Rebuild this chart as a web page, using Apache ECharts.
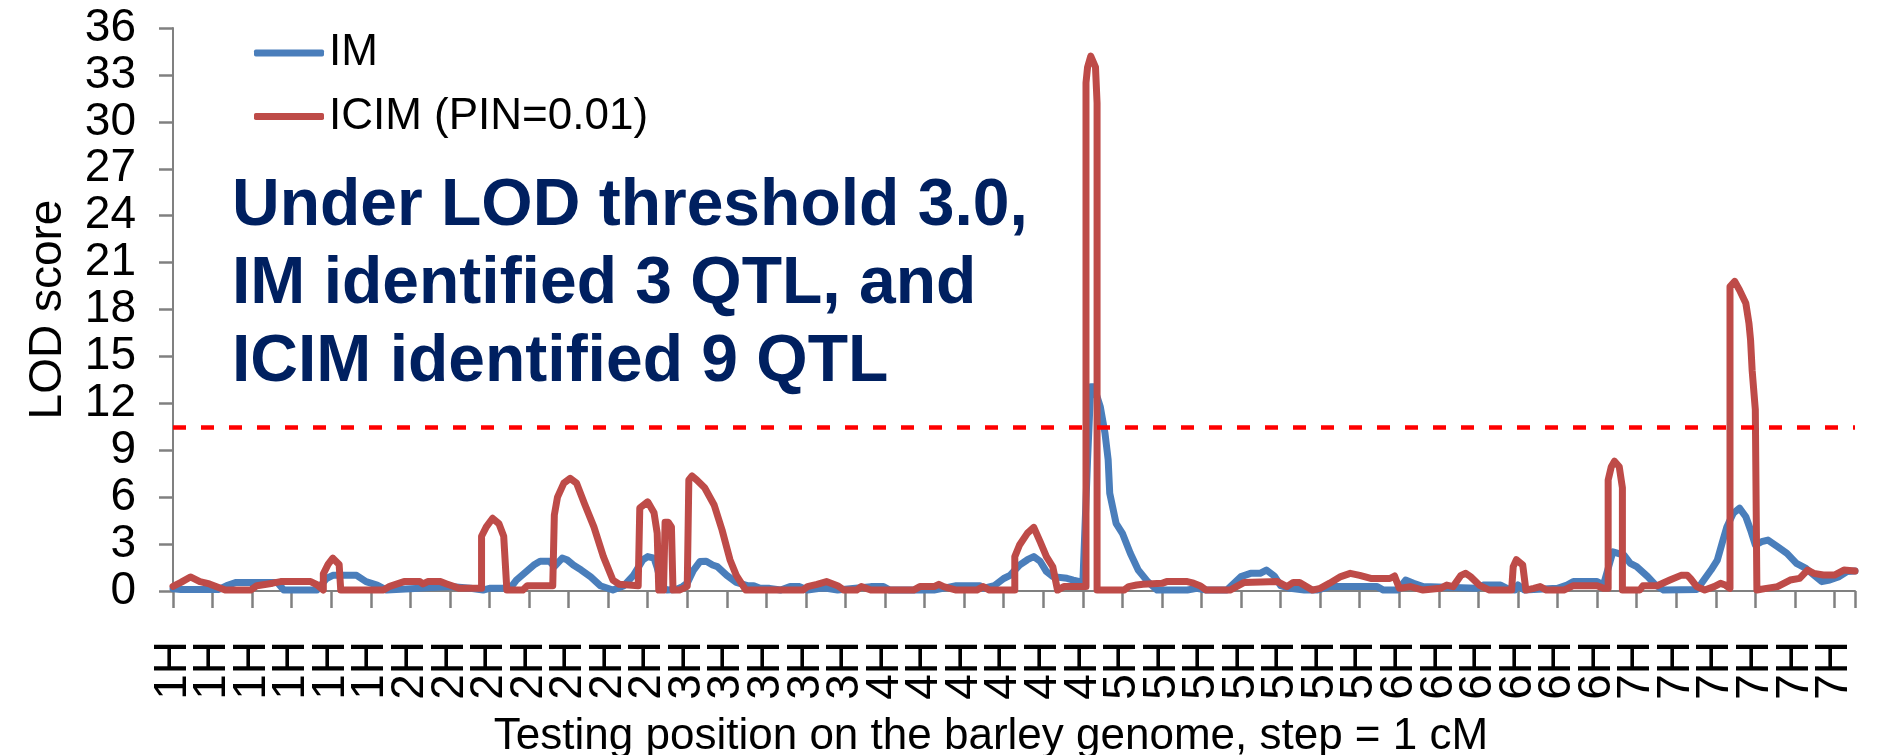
<!DOCTYPE html>
<html><head><meta charset="utf-8">
<script src="https://cdn.jsdelivr.net/npm/echarts@6/dist/echarts.min.js"></script>
<style>html,body{margin:0;padding:0;background:#fff}#c{width:1884px;height:755px}</style>
</head><body><div id="c"></div>
<script>
// Tick labels along the genome (one every 25 positions)
const tickLabels = ['1H','1H','1H','1H','1H','1H',
  '2H','2H','2H','2H','2H','2H','2H',
  '3H','3H','3H','3H','3H',
  '4H','4H','4H','4H','4H','4H',
  '5H','5H','5H','5H','5H','5H','5H',
  '6H','6H','6H','6H','6H','6H',
  '7H','7H','7H','7H','7H','7H'];
const tickStep = 25;
const lastPosition = 1063;

// IM profile (position index, LOD)
const imPos = [0,5,29,34,40,66,70,91,97,101,116,122,129,135,150,160,177,188,196,200,213,217,228,232,238,241,246,249,253,258,264,270,278,285,291,297,300,304,306,309,312,318,322,325,329,333,337,341,344,350,356,363,367,371,377,384,390,396,401,409,413,420,441,449,453,481,495,510,512,519,525,529,535,540,544,548,552,556,565,569,573,575,578,580,582,586,589,591,592,596,600,605,610,616,622,641,647,653,666,675,681,687,691,696,700,706,715,723,731,761,765,774,779,784,790,824,828,839,843,848,850,854,875,881,885,900,904,908,910,917,921,925,932,937,942,963,966,972,976,979,982,986,990,994,997,1000,1004,1008,1014,1020,1026,1032,1037,1042,1047,1053,1058,1063];
const imLod = [0.15,0.1,0.1,0.35,0.55,0.55,0.06,0.06,0.8,1.0,1.0,0.6,0.38,0.06,0.15,0.2,0.28,0.17,0.06,0.17,0.17,0.7,1.66,1.9,1.9,1.56,2.1,2.0,1.66,1.34,0.9,0.34,0.06,0.34,1.0,2.0,2.2,2.1,1.5,0.3,0.06,0.1,0.28,0.5,1.34,1.88,1.9,1.66,1.56,1.0,0.55,0.34,0.34,0.17,0.17,0.06,0.28,0.28,0.06,0.17,0.17,0.06,0.28,0.28,0.06,0.06,0.34,0.34,0.17,0.34,0.8,1.0,1.66,2.0,2.2,1.9,1.24,0.92,0.81,0.7,0.6,0.5,8.4,13.06,13.06,11.8,10.1,8.4,6.25,4.33,3.69,2.41,1.34,0.6,0.06,0.06,0.17,0.06,0.06,0.92,1.13,1.13,1.34,0.96,0.34,0.17,0.06,0.06,0.28,0.28,0.06,0.06,0.7,0.5,0.28,0.17,0.38,0.38,0.17,0.06,0.38,0.06,0.17,0.38,0.6,0.6,0.38,1.8,2.5,2.3,1.77,1.56,0.92,0.38,0.06,0.1,0.49,1.34,1.98,3.05,4.1,4.96,5.3,4.75,3.9,2.94,3.15,3.26,2.84,2.41,1.77,1.45,1.02,0.6,0.7,0.92,1.24,1.28];

// ICIM (PIN=0.01) profile (position index, LOD)
const icimPos = [0,5,11,17,23,33,49,53,63,68,87,91,95,95,98,101,105,106,133,137,146,156,158,161,169,173,181,195,195,198,202,206,209,211,221,224,240,241,243,247,251,255,260,266,272,278,282,294,295,300,304,306,307,310,311,313,315,316,320,325,326,328,331,336,342,347,352,356,362,398,401,407,413,420,424,432,435,441,468,472,481,484,487,495,508,512,516,532,532,535,540,544,548,552,556,559,563,577,577,578,580,581,583,584,584,601,604,609,613,625,628,641,645,649,653,668,677,698,704,708,712,720,725,731,738,744,750,757,769,772,775,782,790,801,805,809,814,817,820,826,832,846,847,849,853,855,860,864,868,879,885,900,904,907,907,909,911,914,916,916,927,929,938,946,953,957,959,963,968,974,978,981,984,984,987,990,994,996,997,998,1000,1001,1007,1014,1022,1028,1033,1037,1043,1050,1056,1063];
const icimLod = [0.3,0.55,0.9,0.6,0.45,0.06,0.06,0.34,0.5,0.6,0.6,0.4,0.06,1.1,1.7,2.1,1.7,0.06,0.06,0.3,0.6,0.6,0.45,0.6,0.6,0.45,0.17,0.17,3.5,4.1,4.65,4.3,3.5,0.06,0.06,0.34,0.34,4.86,6.0,6.9,7.2,6.9,5.6,4.1,2.2,0.7,0.43,0.34,5.3,5.7,5.0,3.7,0.06,0.06,4.4,4.4,4.1,0.06,0.06,0.3,7.1,7.35,7.1,6.6,5.5,3.9,2.0,1.0,0.06,0.06,0.28,0.43,0.6,0.34,0.06,0.06,0.28,0.06,0.06,0.28,0.28,0.43,0.28,0.06,0.06,0.28,0.06,0.06,2.2,2.94,3.7,4.07,3.16,2.2,1.55,0.06,0.28,0.28,32.5,33.5,34.2,34.3,33.5,31.2,0.06,0.06,0.28,0.38,0.43,0.49,0.6,0.6,0.5,0.34,0.06,0.06,0.55,0.6,0.28,0.55,0.55,0.06,0.17,0.5,0.92,1.13,1.0,0.8,0.8,0.96,0.17,0.28,0.06,0.17,0.38,0.28,1.0,1.13,0.92,0.34,0.06,0.06,1.56,2.0,1.66,0.06,0.17,0.28,0.06,0.06,0.34,0.34,0.17,0.17,7.1,7.95,8.3,7.95,6.6,0.06,0.06,0.34,0.34,0.7,1.0,1.0,0.8,0.28,0.06,0.28,0.49,0.38,0.17,19.46,19.8,19.25,18.4,17.1,16.05,14.1,11.6,0.06,0.17,0.28,0.7,0.81,1.34,1.13,1.02,1.02,1.34,1.28];

const threshold = 10.5;
const annotation = ['Under LOD threshold 3.0,', 'IM identified 3 QTL, and', 'ICIM identified 9 QTL'];
const seriesNames = ['IM', 'ICIM (PIN=0.01)'];

const FONT = '"Liberation Sans", Arial, sans-serif';
const AXIS_COLOR = '#808080';
// one category per tested position (step = 1 cM)
const positions = Array.from({length: lastPosition + 1}, (_, i) => String(i));
const zip = (xs, ys) => xs.map((x, i) => [x, ys[i]]);

const chart = echarts.init(document.getElementById('c'), null, {renderer: 'canvas'});
chart.setOption({
  animation: false,
  backgroundColor: '#ffffff',
  grid: {left: 173, right: 29, top: 28, bottom: 164, containLabel: false, outerBoundsMode: 'none'},
  title: {
    text: annotation.join('\n'), left: 232, top: 168, padding: 0,
    textStyle: {fontFamily: FONT, fontWeight: 'bold', fontSize: 66, lineHeight: 78, color: '#002060'}
  },
  legend: {
    orient: 'vertical', left: 254, top: 31, padding: 0,
    itemWidth: 70, itemHeight: 7, itemGap: 19.5, icon: 'roundRect',
    textStyle: {fontFamily: FONT, fontSize: 44, color: '#000'},
    data: seriesNames
  },
  xAxis: {
    type: 'category', data: positions, boundaryGap: false,
    name: 'Testing position on the barley genome, step = 1 cM',
    nameLocation: 'middle', nameGap: 124,
    nameTextStyle: {fontFamily: FONT, fontSize: 44, color: '#000', padding: [0, 46, 0, 0]},
    axisLine: {show: true, onZero: false, lineStyle: {color: AXIS_COLOR, width: 2}},
    axisTick: {show: true, inside: false, length: 17, interval: tickStep - 1, lineStyle: {color: AXIS_COLOR, width: 2.5, type: 'solid'}},
    axisLabel: {
      interval: 0, rotate: 90, margin: 50, lineHeight: 34,
      align: 'right', verticalAlign: 'middle',
      fontFamily: FONT, fontSize: 46, color: '#000',
      formatter: (v, idx) => (idx % tickStep === 0 ? (tickLabels[idx / tickStep] || '') : '')
    },
    splitLine: {show: false}
  },
  yAxis: {
    type: 'value', min: 0, max: 36, interval: 3,
    name: 'LOD score', nameLocation: 'middle', nameGap: 102,
    nameTextStyle: {fontFamily: FONT, fontSize: 46, color: '#000'},
    axisLine: {show: true, lineStyle: {color: AXIS_COLOR, width: 2}},
    axisTick: {show: true, inside: false, length: 14, lineStyle: {color: AXIS_COLOR, width: 2.5, type: 'solid'}},
    axisLabel: {margin: 37, fontFamily: FONT, fontSize: 46, color: '#000'},
    splitLine: {show: false}
  },
  series: [
    {
      name: seriesNames[0], type: 'line', data: zip(imPos, imLod),
      showSymbol: false, symbol: 'none',
      color: '#4A7EBB',
      lineStyle: {color: '#4A7EBB', width: 7, cap: 'round', join: 'round'},
      markLine: {
        silent: true, symbol: ['none', 'none'], label: {show: false},
        lineStyle: {color: '#FF0000', width: 4.5, type: [13, 15]},
        data: [{yAxis: threshold}]
      }
    },
    {
      name: seriesNames[1], type: 'line', data: zip(icimPos, icimLod),
      showSymbol: false, symbol: 'none',
      color: '#BE4B48',
      lineStyle: {color: '#BE4B48', width: 7, cap: 'round', join: 'round'}
    }
  ]
});
</script>
</body></html>
